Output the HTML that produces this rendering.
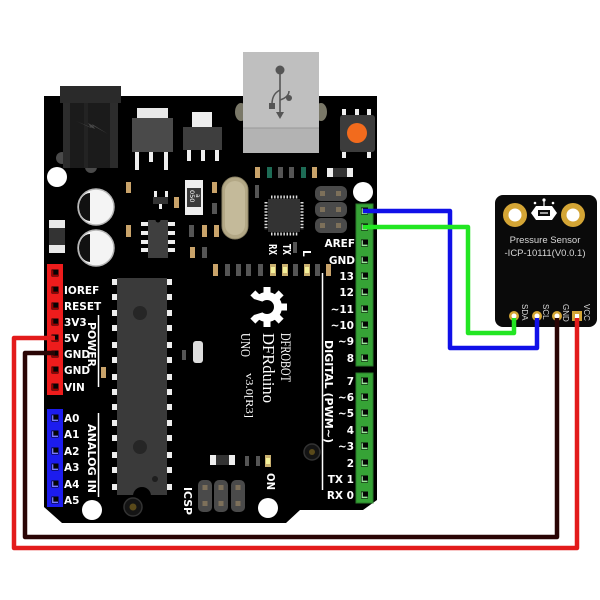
<!DOCTYPE html>
<html><head><meta charset="utf-8"><style>
html,body{margin:0;padding:0;background:#fff;}
svg{display:block;}
.lb{font-family:"DejaVu Sans","Liberation Sans",sans-serif;font-weight:bold;font-size:10.5px;fill:#fff;}
.vt{font-family:"DejaVu Sans","Liberation Sans",sans-serif;font-weight:bold;font-size:11px;fill:#fff;}
.sf{font-family:"Liberation Serif",serif;fill:#fff;}
.ss{font-family:"Liberation Sans",sans-serif;fill:#d8d8d8;}
</style></head><body>
<svg width="600" height="600" viewBox="0 0 600 600" xmlns="http://www.w3.org/2000/svg">
<defs>
<g id="pg"><rect x="-3.5" y="-3.5" width="7" height="7" fill="#050505"/><path d="M-2.3,-2.8V2.3H3" stroke="#9ae69a" stroke-width="1.3" fill="none"/></g>
<g id="pr"><rect x="-3.5" y="-3.5" width="7" height="7" fill="#050505"/><path d="M-2.3,-2.8V2.3H3" stroke="#9a0000" stroke-width="1.3" fill="none"/></g>
<g id="pb"><rect x="-3.5" y="-3.5" width="7" height="7" fill="#050505"/><path d="M-2.3,-2.8V2.3H3" stroke="#7a7aff" stroke-width="1.3" fill="none"/></g>
</defs>
<rect width="600" height="600" fill="#fff"/>

<!-- board -->
<path d="M44,96 H377 V500 L363,510 H300 L286,523 H62 L44,507 Z" fill="#000"/>

<!-- power jack -->
<circle cx="62" cy="158" r="6" fill="#4a4a4a"/>
<circle cx="91" cy="167" r="6" fill="#4a4a4a"/>
<rect x="60" y="86" width="61" height="17" fill="#2a2a2a"/>
<rect x="63" y="103" width="55" height="65" fill="#1b1b1b"/>
<rect x="63" y="103" width="7" height="65" fill="#2c2c2c"/>
<rect x="110" y="103" width="8" height="65" fill="#2c2c2c"/>
<rect x="84" y="103" width="4" height="65" fill="#232323"/>
<polygon points="76,121 95,129 92,124 108,134 88,123 91,128" fill="#474747"/>

<!-- regulators -->
<rect x="137" y="108" width="31" height="10" fill="#e8e8e8"/>
<rect x="132" y="118" width="41" height="34" fill="#4a4a4a"/>
<rect x="135" y="152" width="4" height="18" fill="#eee"/>
<rect x="149" y="152" width="4" height="10" fill="#eee"/>
<rect x="164" y="152" width="4" height="18" fill="#eee"/>
<rect x="192" y="112" width="20" height="15" fill="#eee"/>
<rect x="183" y="127" width="39" height="23" fill="#3e3e3e"/>
<rect x="187" y="150" width="4" height="11" fill="#eee"/>
<rect x="201" y="150" width="4" height="11" fill="#eee"/>
<rect x="215" y="150" width="4" height="11" fill="#eee"/>

<!-- USB -->
<ellipse cx="241" cy="112" rx="6" ry="9" fill="#7a7868"/>
<ellipse cx="321" cy="112" rx="6" ry="9" fill="#7a7868"/>
<rect x="243" y="52" width="76" height="101" fill="#bfbfbf"/>
<rect x="243" y="128" width="76" height="25" fill="#b3b3b3"/>
<line x1="243" y1="128" x2="319" y2="128" stroke="#9a9a9a" stroke-width="1"/>
<circle cx="280" cy="70" r="4.5" fill="#555"/>
<line x1="280" y1="74" x2="280" y2="113" stroke="#555" stroke-width="1.6"/>
<polygon points="276,112 284,112 280,119" fill="#555"/>
<path d="M280,90 Q272,94 272,104" stroke="#555" stroke-width="1.5" fill="none"/>
<rect x="269" y="103" width="6" height="6" fill="#555"/>
<path d="M280,100 Q289,97 289,91" stroke="#555" stroke-width="1.5" fill="none"/>
<circle cx="289" cy="98" r="3" fill="#555"/>

<!-- reset -->
<rect x="342" y="109" width="4" height="6" fill="#eee"/>
<rect x="355" y="109" width="4" height="6" fill="#eee"/>
<rect x="367" y="109" width="4" height="6" fill="#eee"/>
<rect x="342" y="152" width="4" height="6" fill="#eee"/>
<rect x="367" y="152" width="4" height="6" fill="#eee"/>
<rect x="340" y="115" width="35" height="37" rx="3" fill="#3c3c3c"/>
<circle cx="357" cy="133" r="10" fill="#f26b1d"/>

<!-- capacitors -->
<circle cx="96" cy="207" r="18" fill="#f4f4f4" stroke="#b5b5b5" stroke-width="1.5"/>
<path d="M90,193 A11,14 0 0 0 90,221 Z" fill="#111"/>
<circle cx="96" cy="248" r="18" fill="#f4f4f4" stroke="#b5b5b5" stroke-width="1.5"/>
<path d="M90,234 A11,14 0 0 0 90,262 Z" fill="#111"/>

<!-- holes -->
<circle cx="57" cy="177" r="10" fill="#fff"/>
<circle cx="363" cy="192" r="10" fill="#fff"/>
<circle cx="92" cy="510" r="10" fill="#fff"/>
<circle cx="268" cy="508" r="10" fill="#fff"/>

<!-- left component -->
<rect x="49" y="220" width="16" height="33" fill="#e8e8e8"/>
<rect x="49" y="228" width="16" height="17" fill="#333"/>

<!-- SOT23 -->
<rect x="154" y="191" width="3" height="7" fill="#eee"/>
<rect x="165" y="191" width="3" height="7" fill="#eee"/>
<rect x="159" y="203" width="3" height="6" fill="#eee"/>
<rect x="153" y="197" width="15" height="7" fill="#333"/>

<!-- 050 resistor -->
<rect x="185" y="180" width="18" height="35" fill="#eee"/>
<rect x="187" y="188" width="14" height="19" fill="#3a3a3a"/>
<text x="0" y="0" transform="translate(190,190) rotate(90)" font-family="DejaVu Sans,sans-serif" font-size="6.5" fill="#fff">050</text>
<text x="0" y="0" transform="translate(196,194) rotate(90)" font-family="DejaVu Sans,sans-serif" font-size="6" fill="#fff">a</text>

<!-- IC8 -->
<rect x="141" y="222" width="7" height="4" fill="#eee"/><rect x="141" y="231" width="7" height="4" fill="#eee"/>
<rect x="141" y="240" width="7" height="4" fill="#eee"/><rect x="141" y="248" width="7" height="4" fill="#eee"/>
<rect x="168" y="222" width="7" height="4" fill="#eee"/><rect x="168" y="231" width="7" height="4" fill="#eee"/>
<rect x="168" y="240" width="7" height="4" fill="#eee"/><rect x="168" y="248" width="7" height="4" fill="#eee"/>
<rect x="148" y="220" width="20" height="38" fill="#3f3f3f"/>
<circle cx="158" cy="220" r="2.5" fill="#000"/>

<!-- small SMDs -->
<g>
<rect x="126" y="182" width="5" height="11" fill="#c9a36a"/>
<rect x="174" y="197" width="5" height="11" fill="#c9a36a"/>
<rect x="212" y="182" width="5" height="11" fill="#c9a36a"/>
<rect x="212" y="203" width="5" height="11" fill="#555"/>
<rect x="126" y="225" width="5" height="12" fill="#c9a36a"/>
<rect x="189" y="225" width="5" height="12" fill="#555"/>
<rect x="202" y="225" width="5" height="12" fill="#c9a36a"/>
<rect x="214" y="225" width="5" height="12" fill="#c9a36a"/>
<rect x="190" y="247" width="5" height="11" fill="#c9a36a"/>
<rect x="202" y="247" width="5" height="11" fill="#555"/>
<rect x="255" y="167" width="5" height="11" fill="#c9a36a"/>
<rect x="267" y="167" width="5" height="11" fill="#1d6b55"/>
<rect x="278" y="167" width="5" height="11" fill="#555"/>
<rect x="289" y="167" width="5" height="11" fill="#555"/>
<rect x="301" y="167" width="5" height="11" fill="#1d6b55"/>
<rect x="312" y="167" width="5" height="11" fill="#c9a36a"/>
<rect x="327" y="168" width="26" height="9" fill="#eee"/>
<rect x="333" y="168" width="14" height="9" fill="#333"/>
<rect x="255" y="185" width="4" height="13" fill="#555"/>
<rect x="293" y="242" width="4" height="11" fill="#555"/>
<!-- LED row -->
<rect x="213" y="264" width="5" height="12" fill="#c9a36a"/>
<rect x="225" y="264" width="5" height="12" fill="#555"/>
<rect x="236" y="264" width="5" height="12" fill="#555"/>
<rect x="246" y="264" width="5" height="12" fill="#555"/>
<rect x="258" y="264" width="5" height="12" fill="#555"/>
<rect x="270" y="264" width="6" height="12" fill="#c9b070"/><rect x="271" y="267" width="4" height="6" fill="#f3f19a"/>
<rect x="282" y="264" width="6" height="12" fill="#c9b070"/><rect x="283" y="267" width="4" height="6" fill="#f3f19a"/>
<rect x="293" y="264" width="5" height="12" fill="#555"/>
<rect x="304" y="264" width="6" height="12" fill="#c9b070"/><rect x="305" y="267" width="4" height="6" fill="#f3f19a"/>
<rect x="315" y="264" width="5" height="12" fill="#555"/>
<rect x="326" y="264" width="5" height="12" fill="#c9a36a"/>
<!-- mid -->
<rect x="193" y="341" width="10" height="22" rx="3" fill="#ddd"/>
<rect x="182" y="350" width="4" height="10" fill="#555"/>
<rect x="101" y="367" width="5" height="11" fill="#c9a36a"/>
<!-- bottom -->
<rect x="210" y="455" width="25" height="10" fill="#eee"/>
<rect x="216" y="455" width="13" height="10" fill="#333"/>
<rect x="245" y="456" width="4" height="10" fill="#555"/>
<rect x="256" y="456" width="4" height="10" fill="#555"/>
<rect x="265" y="455" width="6" height="12" fill="#c9b070"/><rect x="266" y="458" width="4" height="6" fill="#f3f19a"/>
</g>

<!-- crystal -->
<rect x="222" y="177" width="26" height="62" rx="13" fill="#b3a886" stroke="#8f8668" stroke-width="1"/>
<rect x="225" y="181" width="20" height="54" rx="10" fill="#c4ba9a"/>

<!-- ICSP top -->
<rect x="315" y="186" width="32" height="15" rx="6" fill="#4a4a4a"/>
<rect x="315" y="202" width="32" height="15" rx="6" fill="#4a4a4a"/>
<rect x="315" y="218" width="32" height="15" rx="6" fill="#4a4a4a"/>
<rect x="320" y="191" width="5" height="5" fill="#7d705a"/><rect x="336" y="191" width="5" height="5" fill="#7d705a"/>
<rect x="320" y="207" width="5" height="5" fill="#7d705a"/><rect x="336" y="207" width="5" height="5" fill="#7d705a"/>
<rect x="320" y="223" width="5" height="5" fill="#7d705a"/><rect x="336" y="223" width="5" height="5" fill="#7d705a"/>

<!-- QFN -->
<line x1="271" y1="197" x2="298" y2="197" stroke="#ddd" stroke-width="3" stroke-dasharray="1.5 1.6"/>
<line x1="271" y1="234" x2="298" y2="234" stroke="#ddd" stroke-width="3" stroke-dasharray="1.5 1.6"/>
<line x1="266" y1="202" x2="266" y2="230" stroke="#ddd" stroke-width="3" stroke-dasharray="1.5 1.6"/>
<line x1="302" y1="202" x2="302" y2="230" stroke="#ddd" stroke-width="3" stroke-dasharray="1.5 1.6"/>
<rect x="268" y="199" width="32" height="33" fill="#333"/>

<!-- RX TX L -->
<text x="0" y="0" transform="translate(269,244) rotate(90)" class="lb" font-size="9" textLength="11" lengthAdjust="spacingAndGlyphs">RX</text>
<text x="0" y="0" transform="translate(283,244) rotate(90)" class="lb" font-size="9" textLength="11" lengthAdjust="spacingAndGlyphs">TX</text>
<text x="0" y="0" transform="translate(303,250) rotate(90)" class="lb" font-size="9">L</text>

<!-- DIP -->
<g fill="#eee">
<rect x="112" y="279" width="5" height="6"/><rect x="112" y="294" width="5" height="6"/><rect x="112" y="310" width="5" height="6"/><rect x="112" y="325" width="5" height="6"/><rect x="112" y="342" width="5" height="6"/><rect x="112" y="357" width="5" height="6"/><rect x="112" y="374" width="5" height="6"/><rect x="112" y="389" width="5" height="6"/><rect x="112" y="404" width="5" height="6"/><rect x="112" y="420" width="5" height="6"/><rect x="112" y="435" width="5" height="6"/><rect x="112" y="452" width="5" height="6"/><rect x="112" y="467" width="5" height="6"/><rect x="112" y="484" width="5" height="6"/>
<rect x="167" y="279" width="5" height="6"/><rect x="167" y="294" width="5" height="6"/><rect x="167" y="310" width="5" height="6"/><rect x="167" y="325" width="5" height="6"/><rect x="167" y="342" width="5" height="6"/><rect x="167" y="357" width="5" height="6"/><rect x="167" y="374" width="5" height="6"/><rect x="167" y="389" width="5" height="6"/><rect x="167" y="404" width="5" height="6"/><rect x="167" y="420" width="5" height="6"/><rect x="167" y="435" width="5" height="6"/><rect x="167" y="452" width="5" height="6"/><rect x="167" y="467" width="5" height="6"/><rect x="167" y="484" width="5" height="6"/>
</g>
<rect x="117" y="278" width="50" height="217" fill="#3a3a3a"/>
<circle cx="142" cy="496" r="9" fill="#000"/>
<circle cx="140" cy="313" r="7" fill="#262626"/>
<circle cx="140" cy="447" r="7" fill="#262626"/>
<circle cx="155" cy="479" r="3" fill="#1e1e1e"/>

<!-- vias -->
<circle cx="133" cy="507" r="9" fill="#141414" stroke="#333" stroke-width="1.5"/>
<circle cx="133" cy="507" r="3.5" fill="#5a4a1a"/>
<circle cx="312" cy="452" r="8" fill="#141414" stroke="#333" stroke-width="1.5"/>
<circle cx="312" cy="452" r="3" fill="#5a4a1a"/>

<!-- ICSP bottom -->
<rect x="198" y="480" width="14" height="32" rx="5" fill="#4a4a4a"/>
<rect x="214" y="480" width="14" height="32" rx="5" fill="#4a4a4a"/>
<rect x="231" y="480" width="14" height="32" rx="5" fill="#4a4a4a"/>
<g fill="#7d705a">
<rect x="202.5" y="485" width="5" height="5"/><rect x="202.5" y="501" width="5" height="5"/>
<rect x="218.5" y="485" width="5" height="5"/><rect x="218.5" y="501" width="5" height="5"/>
<rect x="235.5" y="485" width="5" height="5"/><rect x="235.5" y="501" width="5" height="5"/>
</g>
<text x="0" y="0" transform="translate(184,487) rotate(90)" class="vt" textLength="28" lengthAdjust="spacingAndGlyphs">ICSP</text>
<text x="0" y="0" transform="translate(267,473) rotate(90)" class="vt" font-size="10" textLength="17" lengthAdjust="spacingAndGlyphs">ON</text>

<!-- gear logo -->
<g fill="#fff">
<circle cx="267" cy="307" r="15"/>
<rect x="263.5" y="287" width="7" height="8" transform="rotate(0 267 307)"/>
<rect x="263.5" y="287" width="7" height="8" transform="rotate(45 267 307)"/>
<rect x="263.5" y="287" width="7" height="8" transform="rotate(90 267 307)"/>
<rect x="263.5" y="287" width="7" height="8" transform="rotate(135 267 307)"/>
<rect x="263.5" y="287" width="7" height="8" transform="rotate(180 267 307)"/>
<rect x="263.5" y="287" width="7" height="8" transform="rotate(225 267 307)"/>
<rect x="263.5" y="287" width="7" height="8" transform="rotate(315 267 307)"/>
</g>
<circle cx="267" cy="307" r="7" fill="#000"/>
<polygon points="267,303 244,296 244,318 267,311" fill="#000"/>

<text x="0" y="0" transform="translate(281,333) rotate(90)" class="sf" font-size="15" textLength="49" lengthAdjust="spacingAndGlyphs">DFROBOT</text>
<text x="0" y="0" transform="translate(263,333) rotate(90)" class="sf" font-size="17" textLength="70" lengthAdjust="spacingAndGlyphs">DFRduino</text>
<text x="0" y="0" transform="translate(241,333) rotate(90)" class="sf" font-size="14" textLength="24" lengthAdjust="spacingAndGlyphs">UNO</text>
<text x="0" y="0" transform="translate(246,373) rotate(90)" class="sf" font-size="11" textLength="45" lengthAdjust="spacingAndGlyphs">v3.0[R3]</text>

<!-- section lines and titles -->
<line x1="98.5" y1="315" x2="98.5" y2="387" stroke="#fff" stroke-width="1.5"/>
<line x1="98.5" y1="413" x2="98.5" y2="497" stroke="#fff" stroke-width="1.5"/>
<line x1="322.5" y1="273" x2="322.5" y2="490" stroke="#fff" stroke-width="1.5"/>
<text x="0" y="0" transform="translate(88,322) rotate(90)" class="vt" textLength="45" lengthAdjust="spacingAndGlyphs">POWER</text>
<text x="0" y="0" transform="translate(88,424) rotate(90)" class="vt" textLength="69" lengthAdjust="spacingAndGlyphs">ANALOG IN</text>
<text x="0" y="0" transform="translate(325,340) rotate(90)" class="vt" textLength="103" lengthAdjust="spacingAndGlyphs">DIGITAL (PWM~)</text>

<!-- red header -->
<rect x="47" y="264" width="16" height="131" fill="#ee1c1c"/>
<use href="#pr" x="55" y="273"/><use href="#pr" x="55" y="290"/><use href="#pr" x="55" y="306"/><use href="#pr" x="55" y="322"/>
<use href="#pr" x="55" y="338"/><use href="#pr" x="55" y="354"/><use href="#pr" x="55" y="370"/><use href="#pr" x="55" y="387"/>
<!-- blue header -->
<rect x="47" y="409" width="16" height="98" fill="#1c1cee"/>
<use href="#pb" x="55" y="418"/><use href="#pb" x="55" y="434"/><use href="#pb" x="55" y="451"/>
<use href="#pb" x="55" y="467"/><use href="#pb" x="55" y="484"/><use href="#pb" x="55" y="500"/>
<!-- green headers -->
<rect x="356" y="204" width="17" height="162" fill="#36a336" stroke="#2a7a2a" stroke-width="1"/>
<rect x="356" y="373" width="17" height="130" fill="#36a336" stroke="#2a7a2a" stroke-width="1"/>
<use href="#pg" x="364.5" y="211"/><use href="#pg" x="364.5" y="227"/><use href="#pg" x="364.5" y="243"/><use href="#pg" x="364.5" y="260"/>
<use href="#pg" x="364.5" y="276"/><use href="#pg" x="364.5" y="292"/><use href="#pg" x="364.5" y="309"/><use href="#pg" x="364.5" y="325"/>
<use href="#pg" x="364.5" y="341"/><use href="#pg" x="364.5" y="358"/>
<use href="#pg" x="364.5" y="381"/><use href="#pg" x="364.5" y="397"/><use href="#pg" x="364.5" y="413"/><use href="#pg" x="364.5" y="430"/>
<use href="#pg" x="364.5" y="446"/><use href="#pg" x="364.5" y="463"/><use href="#pg" x="364.5" y="479"/><use href="#pg" x="364.5" y="495"/>

<!-- labels left -->
<g class="lb">
<text x="64" y="294">IOREF</text>
<text x="64" y="310">RESET</text>
<text x="64" y="326">3V3</text>
<text x="64" y="342">5V</text>
<text x="64" y="358">GND</text>
<text x="64" y="374">GND</text>
<text x="64" y="391">VIN</text>
<text x="64" y="422">A0</text>
<text x="64" y="438">A1</text>
<text x="64" y="455">A2</text>
<text x="64" y="471">A3</text>
<text x="64" y="488">A4</text>
<text x="64" y="504">A5</text>
</g>
<!-- labels right -->
<g class="lb" text-anchor="end">
<text x="355" y="247">AREF</text>
<text x="355" y="264">GND</text>
<text x="354" y="280">13</text>
<text x="354" y="296">12</text>
<text x="354" y="313">~11</text>
<text x="354" y="329">~10</text>
<text x="354" y="345">~9</text>
<text x="354" y="362">8</text>
<text x="354" y="385">7</text>
<text x="354" y="401">~6</text>
<text x="354" y="417">~5</text>
<text x="354" y="434">4</text>
<text x="354" y="450">~3</text>
<text x="354" y="467">2</text>
<text x="354" y="483">TX 1</text>
<text x="354" y="499">RX 0</text>
</g>

<!-- sensor -->
<rect x="495" y="195" width="102" height="132" rx="8" fill="#0a0a0a"/>
<circle cx="515" cy="215" r="12" fill="#d4a535"/>
<circle cx="515" cy="215" r="6.5" fill="#fff"/>
<circle cx="573" cy="215" r="12" fill="#d4a535"/>
<circle cx="573" cy="215" r="6.5" fill="#fff"/>
<polygon points="531,213 536,206 552,206 557,213 552,220 536,220" fill="#fff"/>
<rect x="538" y="210" width="12" height="6" fill="#0a0a0a"/>
<line x1="540" y1="213" x2="548" y2="213" stroke="#fff" stroke-width="1.2"/>
<line x1="544" y1="206" x2="544" y2="201" stroke="#fff" stroke-width="1.2"/>
<circle cx="544" cy="200" r="1.6" fill="#fff"/>
<circle cx="535" cy="203" r="1.3" fill="#fff"/>
<circle cx="553" cy="203" r="1.3" fill="#fff"/>
<text x="545" y="243" class="ss" font-size="9.5" text-anchor="middle">Pressure Sensor</text>
<text x="545" y="256" class="ss" font-size="9.5" text-anchor="middle">-ICP-10111(V0.0.1)</text>
<circle cx="514" cy="316" r="5" fill="#d4a535"/><circle cx="514" cy="316" r="2.5" fill="#fff"/>
<circle cx="537" cy="316" r="5" fill="#d4a535"/><circle cx="537" cy="316" r="2.5" fill="#fff"/>
<circle cx="557" cy="316" r="5" fill="#d4a535"/><circle cx="557" cy="316" r="2.5" fill="#fff"/>
<rect x="572" y="311" width="10" height="10" fill="#d4a535"/><rect x="575" y="314" width="4" height="4" fill="#fff"/>
<text x="0" y="0" transform="translate(522,304) rotate(90)" class="ss" font-size="8">SDA</text>
<text x="0" y="0" transform="translate(543,304) rotate(90)" class="ss" font-size="8">SCL</text>
<text x="0" y="0" transform="translate(563,304) rotate(90)" class="ss" font-size="8">GND</text>
<text x="0" y="0" transform="translate(584,304) rotate(90)" class="ss" font-size="8">VCC</text>

<!-- wires -->
<polyline points="363,211 450,211 450,348 537,348 537,318" fill="none" stroke="#1010e8" stroke-width="4.5" stroke-linejoin="round"/>
<polyline points="363,227 468,227 468,333 514,333 514,318" fill="none" stroke="#22e622" stroke-width="4.5" stroke-linejoin="round"/>
<polyline points="557,318 557,537 25,537 25,353 55,353" fill="none" stroke="#2a0505" stroke-width="4.5" stroke-linejoin="round"/>
<polyline points="577,318 577,548 14,548 14,338 55,338" fill="none" stroke="#e31b1b" stroke-width="4.5" stroke-linejoin="round"/>
</svg>
</body></html>
